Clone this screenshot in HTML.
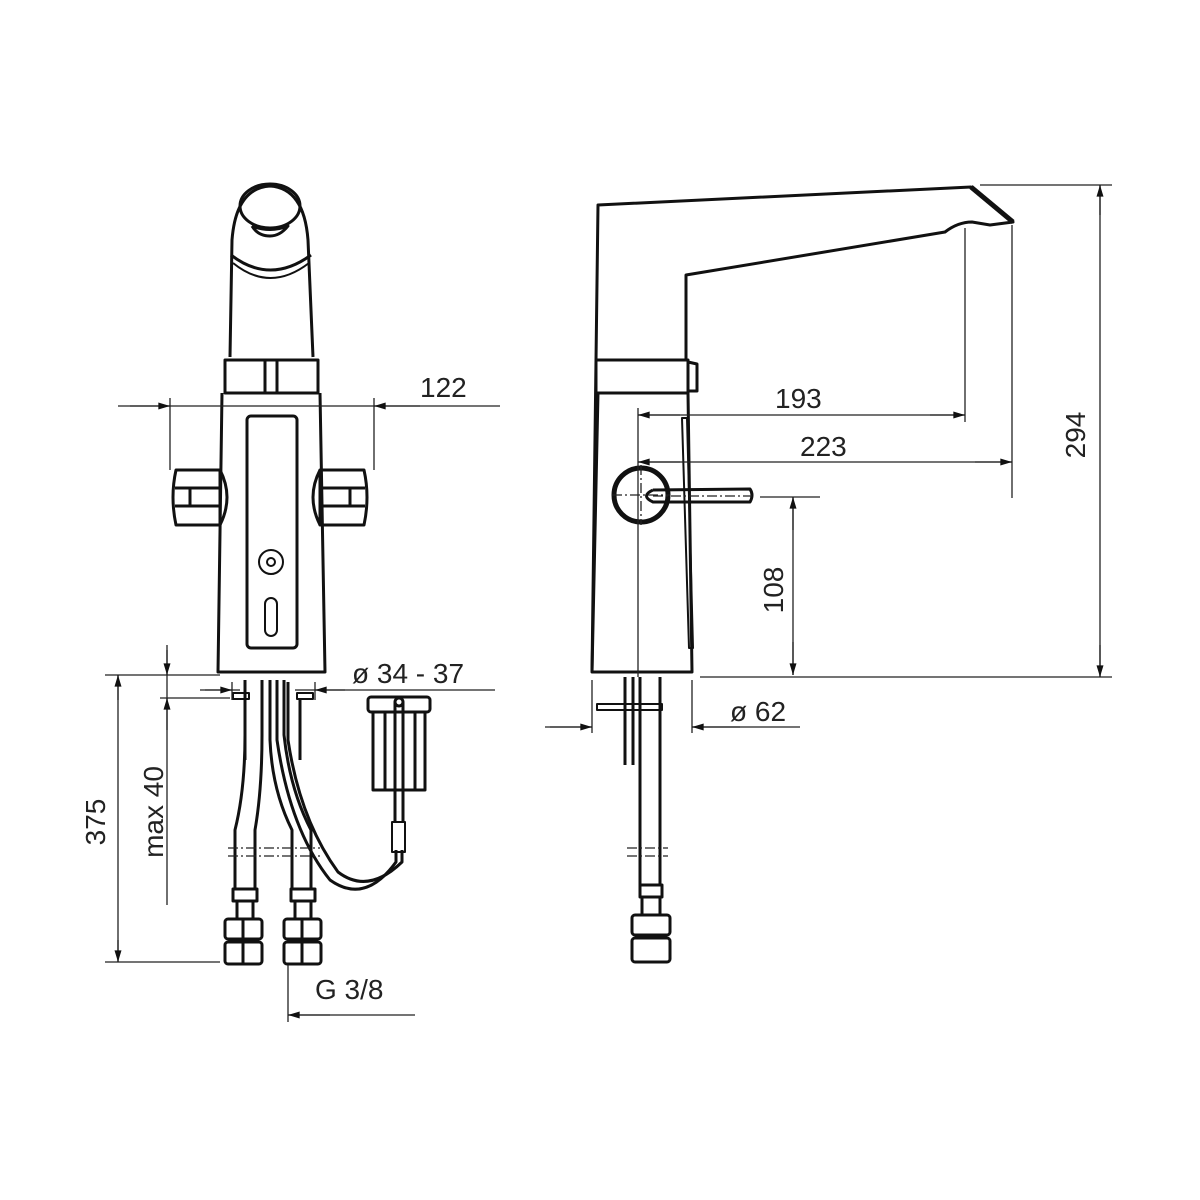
<!DOCTYPE html>
<html><head><meta charset="utf-8"><style>html,body{margin:0;padding:0;background:#fff}svg{display:block}text{font-family:"Liberation Sans",sans-serif;font-size:28px;fill:#222}</style></head><body>
<svg width="1200" height="1200" viewBox="0 0 1200 1200" xmlns="http://www.w3.org/2000/svg">
<defs>
<marker id="a" viewBox="0 0 10 6" refX="10" refY="3" markerWidth="22" markerHeight="7" markerUnits="userSpaceOnUse" orient="auto"><path d="M0,0L10,3L0,6z" fill="#111"/></marker>
</defs>
<g fill="none" stroke="#111" stroke-width="3" stroke-linejoin="round">
<!-- LEFT FAUCET -->
<path d="M230,357 L232,240 Q236,188 270,186 Q304,188 308,240 L313,357"/>
<ellipse cx="270" cy="206" rx="30" ry="22"/>
<path d="M252,226 Q270,233 288,226 Q280,236 270,236 Q258,236 252,226"/>
<path d="M231,255 Q270,285 311,255"/>
<path d="M233,263 Q270,293 309,263" stroke-width="2"/>
<rect x="225" y="360" width="93" height="33"/>
<path d="M265,360V393M277,360V393"/>
<path d="M222,393 L218,672 L325,672 L320,393"/>
<rect x="247" y="416" width="50" height="232" rx="4"/>
<circle cx="271" cy="562" r="12" stroke-width="2"/><circle cx="271" cy="562" r="4" stroke-width="2"/>
<rect x="265" y="598" width="12" height="38" rx="6" stroke-width="2"/>
<path d="M220,470 Q234,497 220,525"/>
<path d="M220,470 L176,470 Q170,497 176,525 L220,525 Z M175,488H220M175,506H220M190,488V506"/>
<path d="M320,470 Q306,497 320,525"/>
<path d="M320,470 L364,470 Q370,497 364,525 L320,525 Z M365,488H320M365,506H320M350,488V506"/>
<!-- hoses -->
<path d="M245,680V735 Q245,790 235,830 V890 M262,680V735 Q262,790 255,830 V890"/>
<path d="M270,680V740 Q272,790 292,830 V890 M284,680V735 Q290,790 311,830 V890"/>
<path d="M277,680V740 Q290,830 330,880 Q365,905 396,862 V850"/>
<path d="M288,682V740 Q300,820 338,872 Q368,895 402,862 V850"/>
<rect x="233" y="693" width="16" height="6" stroke-width="2"/><rect x="297" y="693" width="16" height="6" stroke-width="2"/>
<path d="M245,700V760M300,700V760"/>
<!-- nuts -->
<rect x="233" y="889" width="24" height="12"/><rect x="237" y="901" width="16" height="18"/>
<rect x="225" y="919" width="37" height="20" rx="3"/><rect x="225" y="942" width="37" height="22" rx="3"/><path d="M243,919V964"/>
<rect x="291" y="889" width="24" height="12"/><rect x="295" y="901" width="16" height="18"/>
<rect x="284" y="919" width="37" height="20" rx="3"/><rect x="284" y="942" width="37" height="22" rx="3"/><path d="M302,919V964"/>
<!-- sensor box -->
<rect x="368" y="697" width="62" height="15" rx="3"/><rect x="373" y="712" width="52" height="78"/>
<path d="M385,712V790M415,712V790"/>
<path d="M395,702V822M403,702V822"/><circle cx="399" cy="702" r="4"/>
<rect x="392" y="822" width="13" height="30" stroke-width="2"/>
<!-- RIGHT FAUCET -->
<path d="M592,672 L598,205 L971,187 L1013,222 L990,225 L972,222 Q958,222 945,232 L686,275 L686,360"/>
<path d="M971,187 L1013,222" stroke-width="5"/>
<rect x="596" y="360" width="92" height="33"/>
<path d="M688,362 L697,364 L697,391 L688,391"/>
<path d="M598,393 L592,672 L692,672 L688,393"/>
<path d="M682,418 L687,418 L693,648 L689,648 Z" stroke-width="2"/>
<circle cx="641" cy="495" r="27" stroke-width="5"/>
<path d="M653,490 L750,489 Q754,495 750,502 L653,502 Q640,496 653,490"/>
<path d="M640,677V885M660,677V885M625,677V765M633,677V765"/>
<rect x="597" y="704" width="65" height="6" stroke-width="2"/>
<rect x="640" y="885" width="22" height="12"/><rect x="642" y="897" width="18" height="18"/>
<rect x="632" y="915" width="38" height="20" rx="3"/><rect x="632" y="938" width="38" height="24" rx="3"/>
</g>
<g fill="none" stroke="#222" stroke-width="1.3">
<path d="M170,398V470M374,398V470M118,406H500"/>
<path d="M130,406H170" marker-end="url(#a)"/><path d="M420,406H374" marker-end="url(#a)"/>
<path d="M105,675H220M105,962H220M118,675V962"/>
<path d="M118,700V675" marker-end="url(#a)"/><path d="M118,940V962" marker-end="url(#a)"/>
<path d="M160,698H230M167,645V905"/>
<path d="M167,650V675" marker-end="url(#a)"/><path d="M167,730V698" marker-end="url(#a)"/>
<path d="M232,682V700M315,682V700M200,690H240M295,690H495"/>
<path d="M205,690H232" marker-end="url(#a)"/><path d="M345,690H315" marker-end="url(#a)"/>
<path d="M288,965V1022M288,1015H415"/><path d="M330,1015H288" marker-end="url(#a)"/>
<path d="M228,848H320M228,856H320M627,848H668M627,856H668" stroke-dasharray="10,3,2,3"/>
<path d="M641,465V525M612,495H670M653,496H752" stroke-dasharray="10,3,2,3"/>
<path d="M980,185H1112M700,677H1112M1100,185V677"/>
<path d="M1100,215V185" marker-end="url(#a)"/><path d="M1100,645V677" marker-end="url(#a)"/>
<path d="M638,408V677M638,415H965M965,228V422M638,462H1012M1012,225V498"/>
<path d="M680,415H638" marker-end="url(#a)"/><path d="M930,415H965" marker-end="url(#a)"/>
<path d="M680,462H638" marker-end="url(#a)"/><path d="M975,462H1012" marker-end="url(#a)"/>
<path d="M760,497H820M793,497V675"/>
<path d="M793,530V497" marker-end="url(#a)"/><path d="M793,642V675" marker-end="url(#a)"/>
<path d="M592,680V733M692,680V733M545,727H592M692,727H800"/>
<path d="M550,727H592" marker-end="url(#a)"/><path d="M740,727H692" marker-end="url(#a)"/>
</g>
<text x="420" y="397">122</text>
<text x="352" y="683">ø 34 - 37</text>
<text x="315" y="999">G 3/8</text>
<text transform="translate(105,822) rotate(-90)" text-anchor="middle">375</text>
<text transform="translate(163,812) rotate(-90)" text-anchor="middle">max 40</text>
<text x="775" y="408">193</text>
<text x="800" y="456">223</text>
<text x="730" y="721">ø 62</text>
<text transform="translate(1085,435) rotate(-90)" text-anchor="middle">294</text>
<text transform="translate(783,590) rotate(-90)" text-anchor="middle">108</text>
</svg>
</body></html>
